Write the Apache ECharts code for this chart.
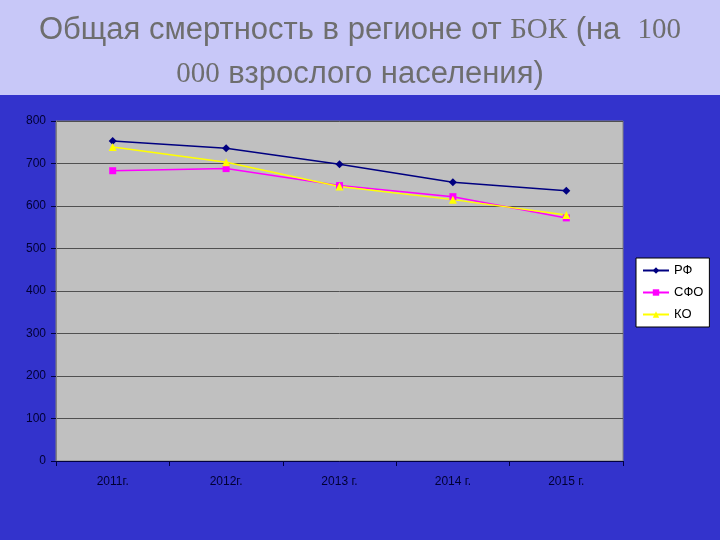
<!DOCTYPE html>
<html><head><meta charset="utf-8">
<script src="https://cdn.jsdelivr.net/npm/echarts@6/dist/echarts.min.js"></script>
<style>html,body{margin:0;padding:0;background:#3333cc}#c{width:720px;height:540px}</style>
</head><body><div id="c"></div>
<script>
const categories = ['2011г.', '2012г.', '2013 г.', '2014 г.', '2015 г.'];
const rf = [753, 736, 698, 656, 636];
const sfo = [683, 688, 648, 622, 572];
const ko = [739, 703, 646, 615, 579];
const seriesNames = ['РФ', 'СФО', 'КО'];

const chart = echarts.init(document.getElementById('c'));
const mkSeries = (name, data, color, symbol, size) => ({
  name, type: 'line', data, symbol, symbolSize: size,
  lineStyle: { color, width: 1.5 }, itemStyle: { color },
  animation: false
});
chart.setOption({
  backgroundColor: '#3333cc',
  animation: false,
  graphic: [{
    type: 'rect', left: 0, top: 0, z: -10,
    shape: { width: 720, height: 95 },
    style: { fill: '#c8c8f8' }
  }],
  title: {
    text: '{s|Общая смертность в регионе от }{r|БОК}{s| (на  }{r|100}\n{r|000}{s| взрослого населения)}',
    left: 'center', top: 3,
    textStyle: {
      fontWeight: 'normal',
      rich: {
        s: { fontFamily: '"Liberation Sans Narrow", "Liberation Sans"', fontWeight: 'normal', fontSize: 31, color: '#6e6e6e', lineHeight: 44 },
        r: { fontFamily: 'Liberation Serif', fontWeight: 'normal', fontSize: 29, color: '#6e6e6e', lineHeight: 44 }
      }
    }
  },
  legend: {
    orient: 'vertical', left: 636, top: 258,
    backgroundColor: '#ffffff', borderColor: '#000000', borderWidth: 1,
    padding: [6, 6, 6, 6], itemGap: 9, itemWidth: 26, itemHeight: 8,
    textStyle: { fontFamily: 'Liberation Sans', fontSize: 13, color: '#000000' },
    data: seriesNames
  },
  grid: { left: 56, right: 97, top: 121, bottom: 79, show: true, backgroundColor: '#c0c0c0', borderColor: '#808080', borderWidth: 1 },
  xAxis: {
    type: 'category', data: categories, boundaryGap: true,
    axisLine: { lineStyle: { color: '#000040', width: 1 } },
    axisTick: { show: true, length: 5, lineStyle: { color: '#000040' } },
    axisLabel: { fontFamily: 'Liberation Sans', fontSize: 12, color: '#000033', margin: 15 }
  },
  yAxis: {
    type: 'value', min: 0, max: 800, interval: 100,
    axisLine: { show: true, lineStyle: { color: '#808080' } },
    axisTick: { show: true, length: 5, lineStyle: { color: '#000040' } },
    axisLabel: { fontFamily: 'Liberation Sans', fontSize: 12, color: '#000033', margin: 10 },
    splitLine: { lineStyle: { color: '#505050', width: 1 } }
  },
  series: [
    mkSeries(seriesNames[0], rf, '#000080', 'diamond', 8),
    mkSeries(seriesNames[1], sfo, '#ff00ff', 'rect', 7),
    mkSeries(seriesNames[2], ko, '#ffff00', 'triangle', 8)
  ]
});
</script></body></html>
